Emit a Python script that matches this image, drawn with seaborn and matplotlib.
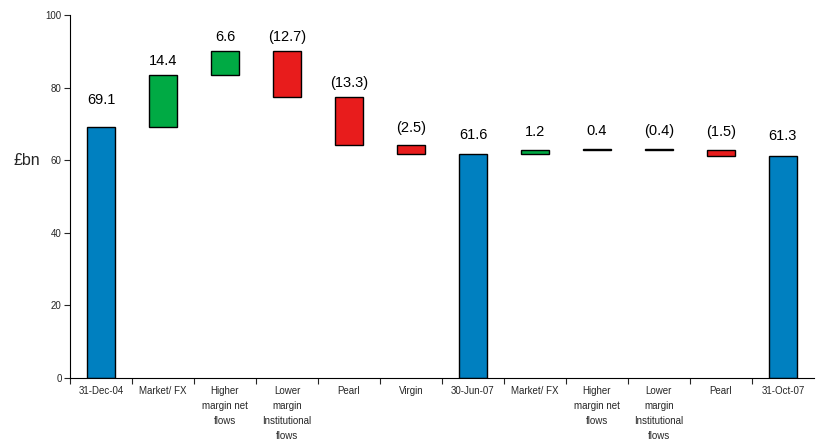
import matplotlib
matplotlib.use("Agg")
import matplotlib.pyplot as plt
import seaborn as sns
import numpy as np
import pandas as pd

categories = ["31-Dec-04", "Market/ FX", "Higher\nmargin net\nflows",
              "Lower\nmargin\nInstitutional\nflows", "Pearl", "Virgin",
              "30-Jun-07", "Market/ FX", "Higher\nmargin net\nflows",
              "Lower\nmargin\nInstitutional\nflows", "Pearl", "31-Oct-07"]
values = [69.1, 14.4, 6.6, -12.7, -13.3, -2.5, 61.6, 1.2, 0.4, -0.4, -1.5, 61.3]
is_total = [True, False, False, False, False, False, True, False, False, False, False, True]
labels = ["69.1", "14.4", "6.6", "(12.7)", "(13.3)", "(2.5)", "61.6",
          "1.2", "0.4", "(0.4)", "(1.5)", "61.3"]

BLUE, GREEN, RED = "#0080C0", "#00AA44", "#E81C1C"

# compute waterfall bottoms / heights
bottoms, heights, colors, tops = [], [], [], []
running = 0.0
for v, t in zip(values, is_total):
    if t:
        bottoms.append(0.0); heights.append(v); colors.append(BLUE)
        running = v
        tops.append(v)
    else:
        bottoms.append(running); heights.append(v)
        colors.append(GREEN if v >= 0 else RED)
        tops.append(max(running, running + v))
        running += v

keys = [f"c{i}" for i in range(len(categories))]
df = pd.DataFrame({"key": keys, "height": heights})

sns.set_style("white")
plt.rcParams["font.family"] = ["Liberation Sans", "DejaVu Sans"]

fig = plt.figure(figsize=(8.18, 4.46), dpi=100)
ax = fig.add_axes([0.0856, 0.1525, 0.9094, 0.8135])

sns.barplot(data=df, x="key", y="height", order=keys, color=BLUE,
            bottom=np.array(bottoms), width=0.44,
            edgecolor="black", linewidth=1.0, ax=ax, saturation=1)
for p, c in zip(ax.patches, colors):
    p.set_facecolor(c)

for i, (tp, lab, v, t) in enumerate(zip(tops, labels, values, is_total)):
    if t:
        off = 5.5 if i == 0 else 3.5
    else:
        off = 2.0 if abs(v) > 5 else 3.0
    ax.text(i, tp + off, lab, ha="center", va="bottom", fontsize=10.5, color="black")

ax.set_ylim(0, 100)
ax.set_xlim(-0.5, len(categories) - 0.5)
ax.set_yticks([0, 20, 40, 60, 80, 100])
ax.tick_params(axis="y", labelsize=7, length=4, width=0.8, direction="out", left=True, pad=2)
ax.set_xticks(range(len(categories)))
ax.set_xticklabels(categories, fontsize=7, linespacing=1.6)
ax.tick_params(axis="x", length=0, pad=6)
ax.set_xticks(np.arange(len(categories)) - 0.5, minor=True)
ax.tick_params(axis="x", which="minor", length=4, width=0.8, direction="out", bottom=True)
ax.set_xlabel("")
ax.set_ylabel("£bn", fontsize=11.5, rotation=0, va="center")
ax.yaxis.set_label_coords(-0.058, 0.6)

for s in ["top", "right"]:
    ax.spines[s].set_visible(False)
for s in ["left", "bottom"]:
    ax.spines[s].set_color("black")
    ax.spines[s].set_linewidth(0.8)

fig.savefig("out.png", dpi=100)
